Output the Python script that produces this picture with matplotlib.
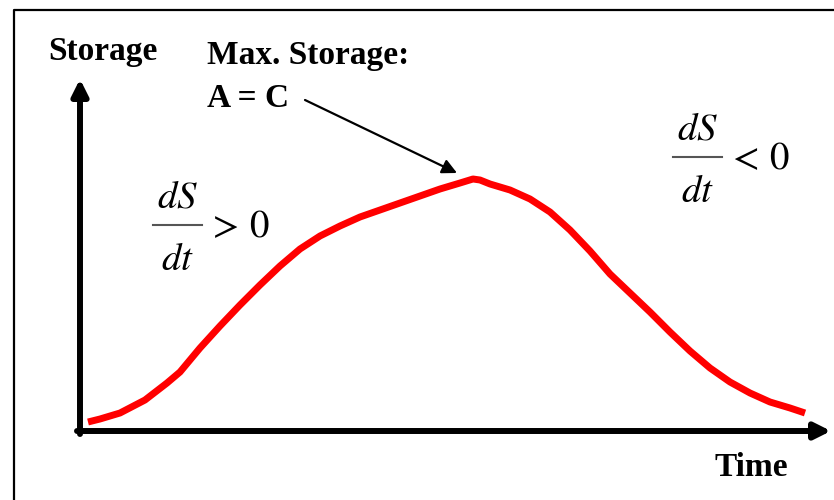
import numpy as np
import matplotlib.pyplot as plt

plt.rcParams['mathtext.fontset'] = 'stix'

# curve: time from the origin, storage above the x axis (pixel units)
time = [8, 20, 40, 65, 87, 100, 120, 140, 160, 180, 200, 220, 240, 260, 280,
        300, 320, 340, 360, 380, 393, 400, 410, 430, 450, 470, 490, 510, 530,
        550, 570, 590, 610, 630, 650, 670, 690, 710, 725]
storage = [9, 12, 18, 31, 48, 59, 83, 105, 126, 146, 165, 182, 195, 205, 214,
           221, 228, 235, 242, 248, 252, 251, 247, 241, 232, 219, 201, 180, 157,
           138, 119, 99, 80, 63, 49, 38, 29, 23, 18]

x_label = "Time"
y_label = "Storage"
peak_label = ["Max. Storage:", "A = C"]
deriv = ("$dS$", "$dt$")
rise_sign = "$>\\,0$"
fall_sign = "$<\\,0$"

fig = plt.figure(figsize=(8.34, 5), dpi=100)
ax = fig.add_axes([0, 0, 1, 1])
ax.set_xlim(-80, 754)
ax.set_ylim(-69, 431)
ax.axis('off')

# frame around the picture (runs off right and bottom)
ax.plot([-66, -66, 760], [-80, 421, 421], color='black', lw=1.6, clip_on=False)

# axes with arrows
arrow = dict(arrowstyle='-|>', lw=4.3, color='black', mutation_scale=24,
             shrinkA=0, shrinkB=0)
ax.annotate('', xy=(0, 352), xytext=(0, -3), arrowprops=arrow)
ax.annotate('', xy=(751, 0), xytext=(-3, 0), arrowprops=arrow)

ax.plot(time, storage, color='#ff0000', lw=5, solid_capstyle='butt',
        solid_joinstyle='round')

bold = dict(family='Liberation Serif', fontweight='bold', fontsize=24, color='black')
ax.text(-32, 371, y_label, ha='left', va='baseline', **bold)
ax.text(635, -45, x_label, ha='left', va='baseline', **bold)
ax.text(127, 367, peak_label[0], ha='left', va='baseline', **bold)
ax.text(127, 324, peak_label[1], ha='left', va='baseline', **bold)

ax.annotate('', xy=(377, 258), xytext=(225, 331),
            arrowprops=dict(arrowstyle='-|>', lw=1.6, color='black', mutation_scale=22,
                            shrinkA=0, shrinkB=0))


def fraction(x0, x1, ybar, sign):
    xc = (x0 + x1) / 2
    ax.plot([x0, x1], [ybar, ybar], color='#555555', lw=1.5)
    ax.text(xc, ybar + 18, deriv[0], fontsize=28, ha='center', va='baseline')
    ax.text(xc, ybar - 45, deriv[1], fontsize=28, ha='center', va='baseline')
    ax.text(x1 + 5, ybar - 1, sign, fontsize=28, ha='left', va='center')


fraction(73, 122, 206, rise_sign)
fraction(593, 642, 274, fall_sign)

fig.savefig('out.png', dpi=100)
